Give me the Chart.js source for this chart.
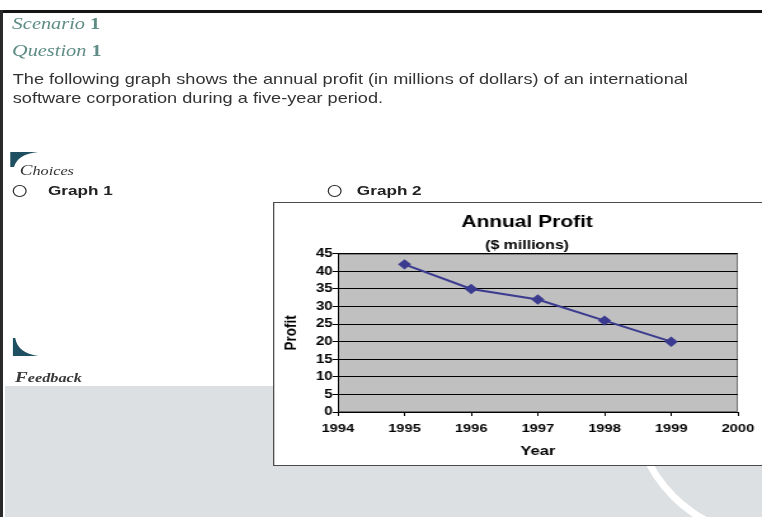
<!DOCTYPE html>
<html>
<head>
<meta charset="utf-8">
<script src="https://cdn.jsdelivr.net/npm/chart.js@4"></script>
<style>
  html, body { margin:0; padding:0; background:#fff; }
  body { width:762px; height:517px; position:relative; overflow:hidden; font-family:"Liberation Sans", Arial, sans-serif; }
  .abs { position:absolute; }
  #topline { left:0; top:10px; width:762px; height:3px; background:#151515; }
  #leftline { left:0; top:10px; width:3px; height:507px; background:#2a2a2a; }
  #gray { left:5px; top:386px; right:0; bottom:0; background:#dde0e3; overflow:hidden; }
  #arc { left:625px; top:-126px; width:280px; height:280px; border:7px solid #fff; border-radius:50%; box-sizing:border-box; }
  #wrap { left:0; top:0; width:600px; height:517px; transform:scaleX(1.27); transform-origin:0 0; }
  .head { font-family:"Liberation Serif", serif; font-style:italic; color:#5f8d85; font-size:16px; line-height:16px; white-space:nowrap; }
  .head span { font-size:17px; }
  .head b { font-style:normal; }
  .para { font-size:14.3px; line-height:19px; color:#333; white-space:nowrap; }
  .opt { font-size:13.5px; line-height:13.5px; font-weight:bold; color:#222; white-space:nowrap; }
  .radio { width:8.5px; height:9.5px; border:1.4px solid #333; border-radius:50%; }
  .lbl { font-family:"Liberation Serif", serif; font-style:italic; color:#3a3a3a; font-size:12.8px; line-height:14px; white-space:nowrap; }
  .lbl span { font-size:15px; }
  #box { left:214.5px; top:202px; width:440px; height:262px; border:1.5px solid #4a4a4a; background:#fff; }
  #box canvas { position:absolute; left:0; top:0; }
</style>
</head>
<body>
<div id="gray" class="abs"><div id="arc" class="abs"></div></div>
<div id="topline" class="abs"></div>
<div id="leftline" class="abs"></div>

<div id="wrap" class="abs">
  <div class="abs head" style="left:9.5px;top:15.5px;"><span>S</span>cenario <b>1</b></div>
  <div class="abs head" style="left:9.5px;top:42.5px;"><span>Q</span>uestion <b>1</b></div>
  <div class="abs para" style="left:10px;top:69.5px;">The following graph shows the annual profit (in millions of dollars) of an international<br>software corporation during a five-year period.</div>

  <svg class="abs" style="left:8px;top:152px;" width="22" height="15" viewBox="0 0 22 15">
    <path d="M0 0 H22 Q6 2 3 15 H0 Z" fill="#1f5062"/>
  </svg>
  <div class="abs lbl" style="left:15.5px;top:163px;color:#333;"><span>C</span>hoices</div>

  <div class="abs radio" style="left:10px;top:185px;"></div>
  <div class="abs opt" style="left:37.8px;top:183.5px;">Graph 1</div>
  <div class="abs radio" style="left:258px;top:185px;"></div>
  <div class="abs opt" style="left:281px;top:183.5px;">Graph 2</div>

  <svg class="abs" style="left:10px;top:338px;" width="20" height="18" viewBox="0 0 20 18">
    <path d="M0 0 H2 Q4 15 20 18 H0 Z" fill="#1f5062"/>
  </svg>
  <div class="abs lbl" style="left:11.8px;top:370px;font-weight:bold;"><span>F</span>eedback</div>

  <div id="box" class="abs"><canvas id="c" width="398" height="262"></canvas></div>
</div>

<script>
const years = [1995, 1996, 1997, 1998, 1999];
const profit = [42, 35, 32, 26, 20];
const xRange = [1994, 2000];
const yRange = [0, 45];
const yStep = 5;
const chartTitle = 'Annual Profit';
const chartSubtitle = '($ millions)';
const xTitle = 'Year';
const yTitle = 'Profit';

const FONT = '"Liberation Sans", Arial, sans-serif';

const plotBg = {
  id: 'plotBg',
  beforeDraw(chart) {
    const {ctx, chartArea:a} = chart;
    ctx.save();
    ctx.fillStyle = '#c0c0c0';
    ctx.fillRect(a.left, a.top, a.right - a.left, a.bottom - a.top);
    ctx.strokeStyle = '#707070';
    ctx.lineWidth = 1;
    ctx.strokeRect(a.left + 0.5, a.top + 0.5, a.right - a.left - 1, a.bottom - a.top - 1);
    ctx.restore();
  }
};

new Chart(document.getElementById('c'), {
  type: 'line',
  data: {
    datasets: [{
      xAxisID: 'x',
      yAxisID: 'y',
      data: years.map((y, i) => ({x: y, y: profit[i]})),
      borderColor: '#3b3b90',
      backgroundColor: '#3b3b90',
      borderWidth: 2,
      pointStyle: 'rectRot',
      pointRadius: 3.8,
      tension: 0
    }]
  },
  options: {
    responsive: false,
    animation: false,
    devicePixelRatio: 1,
    layout: { padding: 0 },
    plugins: {
      legend: { display: false },
      tooltip: { enabled: false },
      title: { display: true, text: chartTitle, color: '#000',
        font: { family: FONT, size: 16.5, weight: 'bold' }, padding: { top: 10, bottom: 0 } },
      subtitle: { display: true, text: chartSubtitle, color: '#000',
        font: { family: FONT, size: 12.5, weight: 'bold' }, padding: { top: 5, bottom: 1 } }
    },
    scales: {
      x: {
        type: 'linear', min: xRange[0], max: xRange[1],
        ticks: { stepSize: 1, color: '#000', padding: 6, maxRotation: 0,
          font: { family: FONT, size: 11.5, weight: 'bold' }, callback: v => String(v) },
        grid: { drawOnChartArea: false, tickLength: 4, color: '#000' },
        border: { color: '#000', width: 1 },
        title: { display: true, text: xTitle, color: '#000',
          font: { family: FONT, size: 13, weight: 'bold' }, padding: { top: 4, bottom: 6 } },
        afterFit: s => { s.height = 53; }
      },
      y: {
        min: yRange[0], max: yRange[1],
        ticks: { stepSize: yStep, color: '#000', padding: 0,
          font: { family: FONT, size: 12, weight: 'bold' } },
        grid: { color: '#000', tickLength: 4, lineWidth: 1 },
        border: { color: '#000', width: 1 },
        title: { display: true, text: yTitle, color: '#000',
          font: { family: FONT, size: 13.5, weight: 'bold' }, padding: { top: 5, bottom: 0 } },
        afterFit: s => { s.width = 50; }
      },
      ySpace: {
        position: 'right', min: yRange[0], max: yRange[1],
        ticks: { display: false },
        grid: { display: false, drawTicks: false },
        border: { display: false },
        afterFit: s => { s.width = 33; }
      }
    }
  },
  plugins: [plotBg]
});
</script>
</body>
</html>
